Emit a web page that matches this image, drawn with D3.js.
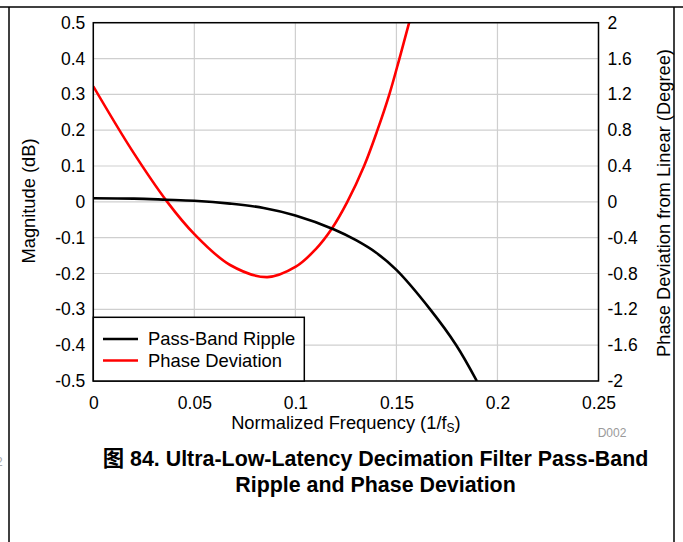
<!DOCTYPE html>
<html><head><meta charset="utf-8">
<script src="https://cdn.jsdelivr.net/npm/d3@7"></script>
<style>
html,body{margin:0;padding:0;background:#fff;}
svg{display:block;}
text{font-family:"Liberation Sans",Arial,"Noto Sans CJK SC",sans-serif;}
</style></head>
<body>
<svg id="chart" width="683" height="542"></svg>
<script>
// ---- data ----
const rippleFreq = [0, 0.02, 0.036, 0.05, 0.0677, 0.0843, 0.1, 0.1192, 0.13, 0.14, 0.15, 0.1667, 0.1796, 0.1898];
const rippleDb   = [0.01, 0.009, 0.006, 0.003, -0.005, -0.017, -0.038, -0.077, -0.107, -0.142, -0.19, -0.3, -0.4, -0.5];
const phaseFreq  = [0, 0.019, 0.0366, 0.05, 0.0677, 0.0861, 0.1002, 0.11, 0.118, 0.1257, 0.134, 0.1406, 0.1465, 0.1515, 0.1563];
const phaseDeg   = [1.29, 0.58, 0, -0.36, -0.705, -0.84, -0.724, -0.53, -0.3, 0, 0.4, 0.8, 1.2, 1.6, 2.0];
const xTicks = [0, 0.05, 0.1, 0.15, 0.2, 0.25];
const yLeftTicks = [0.5, 0.4, 0.3, 0.2, 0.1, 0, -0.1, -0.2, -0.3, -0.4, -0.5];
const yRightTicks = [2, 1.6, 1.2, 0.8, 0.4, 0, -0.4, -0.8, -1.2, -1.6, -2];
const seriesNames = ["Pass-Band Ripple", "Phase Deviation"];
const seriesColors = ["#000000", "#ff0000"];

const svg = d3.select("#chart");
const L = 93.3, R = 598.5, T = 22.7, B = 381;
const x = d3.scaleLinear().domain([0, 0.25]).range([L, R]);
const yL = d3.scaleLinear().domain([-0.5, 0.5]).range([B, T]);
const yR = d3.scaleLinear().domain([-2, 2]).range([B, T]);
const fmt = d => String(d);

// outer page frame
svg.append("line").attr("x1",0).attr("x2",683).attr("y1",7).attr("y2",7).attr("stroke","#000").attr("stroke-width",1.5);
svg.append("line").attr("x1",9).attr("x2",9).attr("y1",7).attr("y2",542).attr("stroke","#000").attr("stroke-width",1.5);
svg.append("line").attr("x1",674).attr("x2",674).attr("y1",7).attr("y2",542).attr("stroke","#000").attr("stroke-width",1.5);
svg.append("text").attr("x",-4).attr("y",466).attr("font-size",12).attr("fill","#aaa").text("2");

// grid
const grid = svg.append("g");
grid.selectAll("line.h").data(yLeftTicks).join("line")
  .attr("x1",L).attr("x2",R).attr("y1",d=>yL(d)).attr("y2",d=>yL(d))
  .attr("stroke","#cfcfcf").attr("stroke-width",1.2);
grid.selectAll("line.v").data(xTicks).join("line")
  .attr("y1",T).attr("y2",B).attr("x1",d=>x(d)).attr("x2",d=>x(d))
  .attr("stroke","#cfcfcf").attr("stroke-width",1.2);

// axes (labels only)
const fs = 17.5;
const axL = svg.append("g").attr("transform",`translate(${L},0)`)
  .call(d3.axisLeft(yL).tickValues(yLeftTicks).tickSize(0).tickPadding(8).tickFormat(fmt));
const axR = svg.append("g").attr("transform",`translate(${R},0)`)
  .call(d3.axisRight(yR).tickValues(yRightTicks).tickSize(0).tickPadding(9).tickFormat(fmt));
const axB = svg.append("g").attr("transform",`translate(0,${B})`)
  .call(d3.axisBottom(x).tickValues(xTicks).tickSize(0).tickPadding(16).tickFormat(fmt));
[axL, axR, axB].forEach(a => {
  a.select(".domain").remove();
  a.selectAll("text").attr("font-size",fs).attr("fill","#000").attr("font-family",'"Liberation Sans",Arial,sans-serif');
});

// clip
svg.append("clipPath").attr("id","plotclip").append("rect")
  .attr("x",L).attr("y",T).attr("width",R-L).attr("height",B-T);

const rippleData = rippleFreq.map((f,i)=>[f, rippleDb[i]]);
const phaseData = phaseFreq.map((f,i)=>[f, phaseDeg[i]]);

svg.append("path").datum(phaseData)
  .attr("clip-path","url(#plotclip)")
  .attr("fill","none").attr("stroke",seriesColors[1]).attr("stroke-width",2.6)
  .attr("d", d3.line().x(d=>x(d[0])).y(d=>yR(d[1])).curve(d3.curveCatmullRom.alpha(0.5)));
svg.append("path").datum(rippleData)
  .attr("clip-path","url(#plotclip)")
  .attr("fill","none").attr("stroke",seriesColors[0]).attr("stroke-width",2.6)
  .attr("d", d3.line().x(d=>x(d[0])).y(d=>yL(d[1])).curve(d3.curveCatmullRom.alpha(0.5)));

// plot frame
svg.append("rect").attr("x",L).attr("y",T).attr("width",R-L).attr("height",B-T)
  .attr("fill","none").attr("stroke","#000").attr("stroke-width",1.5);

// legend
const lg = svg.append("g");
lg.append("rect").attr("x",L).attr("y",317.3).attr("width",304.3-L).attr("height",B-317.3)
  .attr("fill","#fff").attr("stroke","#000").attr("stroke-width",1.5);
seriesNames.forEach((n,i)=>{
  const yy = 339 + i*21.5;
  lg.append("line").attr("x1",103).attr("x2",138).attr("y1",yy).attr("y2",yy)
    .attr("stroke",seriesColors[i]).attr("stroke-width",2.6);
  lg.append("text").attr("x",148).attr("y",yy+6.3).attr("font-size",18.4).attr("fill","#000").text(n);
});

// axis titles
const tfs = 18.3;
const xt = svg.append("text").attr("x",(L+R)/2).attr("y",429).attr("text-anchor","middle")
  .attr("font-size",tfs).attr("fill","#000");
xt.append("tspan").text("Normalized Frequency (1/f");
xt.append("tspan").attr("font-size",12).attr("dy",3).text("S");
xt.append("tspan").attr("dy",-3).text(")");

svg.append("text").attr("transform",`translate(35,201) rotate(-90)`).attr("text-anchor","middle")
  .attr("font-size",tfs).attr("fill","#000").text("Magnitude (dB)");
svg.append("text").attr("transform",`translate(670,203) rotate(-90)`).attr("text-anchor","middle")
  .attr("font-size",tfs).attr("fill","#000").text("Phase Deviation from Linear (Degree)");

svg.append("text").attr("x",612).attr("y",437).attr("text-anchor","middle")
  .attr("font-size",12).attr("fill","#9a9a9a").text("D002");

// caption
const cap = ["图 84. Ultra-Low-Latency Decimation Filter Pass-Band", "Ripple and Phase Deviation"];
svg.selectAll("text.cap").data(cap).join("text").attr("class","cap")
  .attr("x",375.5).attr("y",(d,i)=>466+i*26).attr("text-anchor","middle")
  .attr("font-size",21.4).attr("font-weight","bold").attr("fill","#000")
  .attr("font-family",'"Liberation Sans",Arial,"Noto Sans CJK SC",sans-serif')
  .text(d=>d);
</script>
</body></html>
